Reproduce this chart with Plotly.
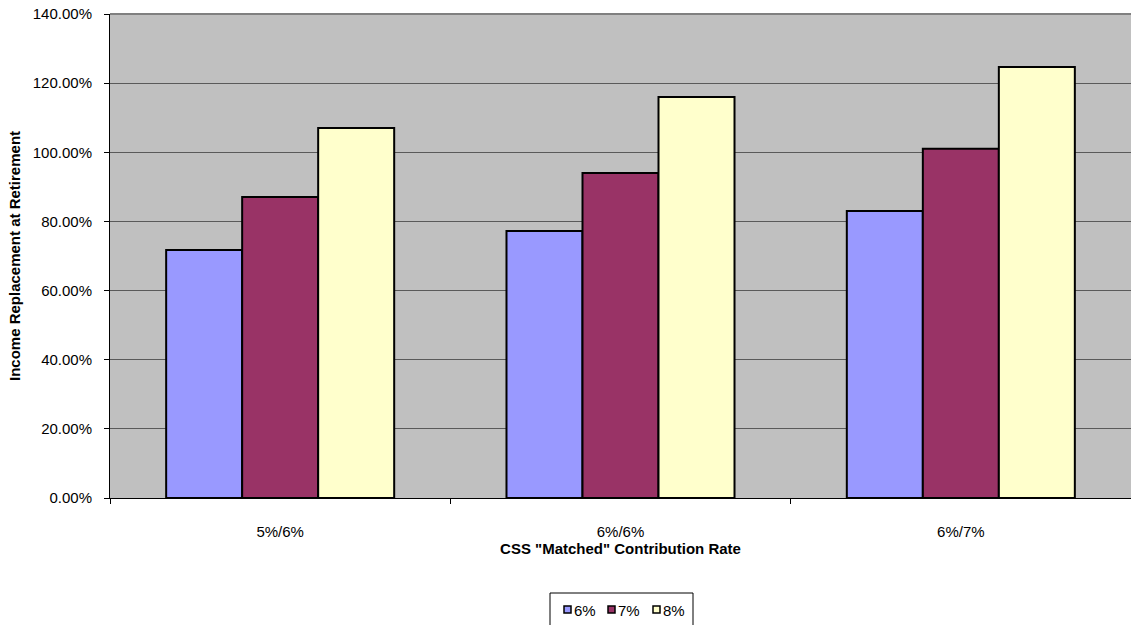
import plotly.graph_objects as go

# Income replacement by CSS matched contribution rate, per assumed return
categories = ["5%/6%", "6%/6%", "6%/7%"]
series_names = ["6%", "7%", "8%"]
rate_6 = [0.717, 0.772, 0.830]
rate_7 = [0.871, 0.940, 1.010]
rate_8 = [1.070, 1.160, 1.247]
colors = ["#9999FF", "#993366", "#FFFFCC"]
y_ticks = [0.0, 0.2, 0.4, 0.6, 0.8, 1.0, 1.2, 1.4]

W, H = 1131, 625
ML, MR, MT, MB = 110, 0, 14, 127
PW, PH = W - ML - MR, H - MT - MB


def px_x(x):
    return (x - ML) / PW


def px_y(y):
    return (H - MB - y) / PH


fig = go.Figure()
for name, vals, col in zip(series_names, [rate_6, rate_7, rate_8], colors):
    fig.add_trace(go.Bar(
        x=categories, y=vals, name=name,
        marker=dict(color=col, line=dict(color="black", width=2)),
        showlegend=False,
    ))

font_family = "Liberation Sans, Arial, sans-serif"

shapes = []
annotations = []

# top border of the plot area
shapes.append(dict(type="line", xref="paper", yref="paper",
                   x0=0, x1=1, y0=1, y1=1,
                   line=dict(color="#808080", width=2), layer="above"))

# legend box with small bordered swatches
shapes.append(dict(type="rect", xref="paper", yref="paper",
                   x0=px_x(550), x1=px_x(693), y0=px_y(593), y1=px_y(628),
                   line=dict(color="black", width=1), fillcolor="white"))
swatch_left = [564, 608, 653]
for name, col, sx in zip(series_names, colors, swatch_left):
    shapes.append(dict(type="rect", xref="paper", yref="paper",
                       x0=px_x(sx), x1=px_x(sx + 7),
                       y0=px_y(606), y1=px_y(613),
                       line=dict(color="black", width=1.5), fillcolor=col))
    annotations.append(dict(text=name, xref="paper", yref="paper",
                            x=px_x(sx + 8), y=px_y(610),
                            xanchor="left", yanchor="middle",
                            showarrow=False,
                            font=dict(family=font_family, size=15, color="black")))

fig.update_layout(
    width=W, height=H,
    margin=dict(l=ML, r=MR, t=MT, b=MB),
    paper_bgcolor="white",
    plot_bgcolor="#C0C0C0",
    barmode="group",
    bargap=0.33,
    bargroupgap=0,
    font=dict(family=font_family, size=15, color="black"),
    showlegend=False,
    shapes=shapes,
    annotations=annotations,
    xaxis=dict(
        title=dict(text='CSS "Matched" Contribution Rate',
                   font=dict(family=font_family, size=15, weight="bold"),
                   standoff=4),
        showline=True, linecolor="black", linewidth=1,
        ticks="outside", tickson="boundaries", ticklen=5, tickcolor="black",
        ticklabelstandoff=20,
        showgrid=False,
        tickfont=dict(size=15),
    ),
    yaxis=dict(
        title=dict(text="Income Replacement at Retirement",
                   font=dict(family=font_family, size=15, weight="bold"),
                   standoff=8),
        range=[0, 1.4],
        tickvals=y_ticks,
        tickformat=".2%",
        showline=True, linecolor="black", linewidth=1,
        ticks="outside", ticklen=5, tickcolor="black",
        ticklabelstandoff=9,
        showgrid=True, gridcolor="#5a5a5a", gridwidth=1,
        zeroline=False,
        tickfont=dict(size=15),
    ),
)

fig.write_html("out.html")
